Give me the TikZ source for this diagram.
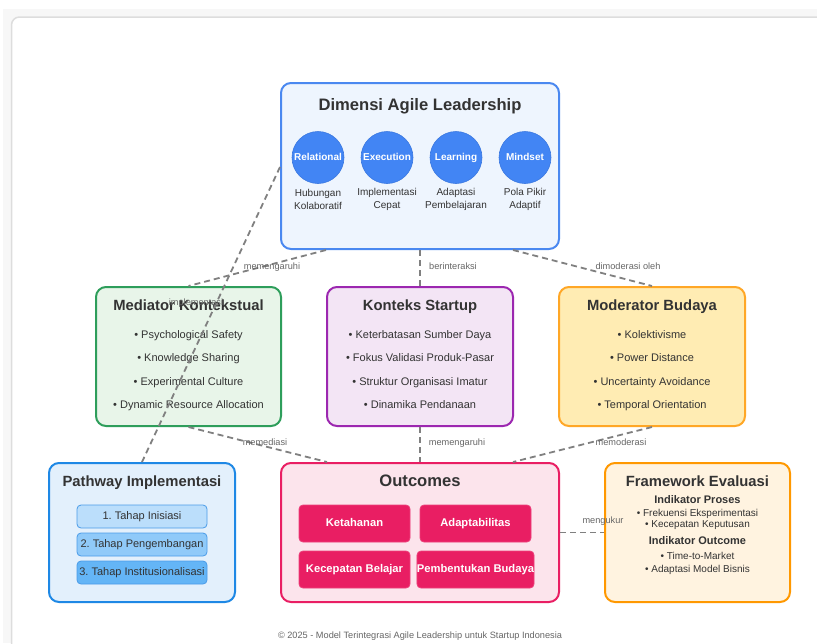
\documentclass[tikz,border=0pt]{standalone}
\usepackage{fontspec}
\setmainfont{Liberation Sans}
\usetikzlibrary{calc}
\definecolor{bggray}{HTML}{F7F7F7}
\definecolor{cardline}{HTML}{DDDDDD}
\definecolor{txt}{HTML}{333333}
\definecolor{conncol}{HTML}{808080}
\definecolor{lblcol}{HTML}{666666}
\definecolor{dimfill}{HTML}{EEF5FE}
\definecolor{dimline}{HTML}{4A88F0}
\definecolor{circfill}{HTML}{4285F4}
\definecolor{circline}{HTML}{3A78E0}
\definecolor{medfill}{HTML}{E8F5E9}
\definecolor{medline}{HTML}{2E9E5B}
\definecolor{konfill}{HTML}{F3E5F5}
\definecolor{konline}{HTML}{9C27B0}
\definecolor{modfill}{HTML}{FFECB3}
\definecolor{modline}{HTML}{FFA726}
\definecolor{patfill}{HTML}{E3F0FC}
\definecolor{patline}{HTML}{1E88E5}
\definecolor{stepA}{HTML}{BBDEFB}
\definecolor{stepB}{HTML}{90CAF9}
\definecolor{stepC}{HTML}{64B5F6}
\definecolor{stepline}{HTML}{4A9BE8}
\definecolor{outfill}{HTML}{FCE4EC}
\definecolor{outline}{HTML}{E91E63}
\definecolor{fwfill}{HTML}{FFF3E0}
\definecolor{fwline}{HTML}{FF9800}
\frenchspacing
\begin{document}
\begin{tikzpicture}[x=1pt,y=-1pt,
  panel/.style={draw, rounded corners=10pt, line width=2pt, inner sep=0pt},
  ttl/.style={text=txt, font=\fontsize{14.8}{17}\selectfont\bfseries, inner sep=0pt, text height=0.72em, text depth=0.22em},
  bigttl/.style={text=txt, font=\fontsize{16.6}{20}\selectfont\bfseries, inner sep=0pt, text height=0.72em, text depth=0.22em},
  item/.style={text=txt, font=\fontsize{11}{13}\selectfont, inner sep=0pt, text height=0.72em, text depth=0.22em},
  small/.style={text=txt, font=\fontsize{10}{13}\selectfont, inner sep=0pt, align=center},
  circ/.style={circle, draw=circline, line width=0.6pt, fill=circfill, minimum size=52pt, inner sep=0pt, text=white, font=\fontsize{10}{12}\selectfont\bfseries, text height=0.72em, text depth=0.22em},
  stepbox/.style={draw=stepline, line width=0.8pt, rounded corners=4pt, minimum width=130pt, minimum height=23pt, inner sep=0pt, text=txt, font=\fontsize{11}{13}\selectfont, text height=0.72em, text depth=0.22em},
  outbox/.style={draw=outline!85!white, fill=outline, line width=0.8pt, rounded corners=4pt, minimum width=111pt, minimum height=37pt, inner sep=0pt, text=white, font=\fontsize{11.2}{13}\selectfont\bfseries, text height=0.72em, text depth=0.22em},
  conn/.style={draw=conncol, line width=1.8pt, dash pattern=on 6pt off 4pt},
  lbl/.style={text=lblcol, font=\fontsize{9.2}{11}\selectfont, inner sep=0pt, text height=0.72em, text depth=0.22em},
]
\useasboundingbox (0,0) rectangle (817,643);
% background
\fill[white] (0,0) rectangle (817,643);
\fill[bggray] (3,9) rectangle (817,643);
\draw[cardline, line width=1.5pt, fill=white, rounded corners=8pt] (11.5,17) rectangle (840,670);

% panels
\node[panel, draw=dimline, fill=dimfill, minimum width=278pt, minimum height=166pt] (dim) at (420,166) {};
\node[panel, draw=medline, fill=medfill, minimum width=185pt, minimum height=139pt] (med) at (188.5,356.5) {};
\node[panel, draw=konline, fill=konfill, minimum width=186pt, minimum height=139pt] (kon) at (420,356.5) {};
\node[panel, draw=modline, fill=modfill, minimum width=186pt, minimum height=139pt] (mod) at (652,356.5) {};
\node[panel, draw=patline, fill=patfill, minimum width=186pt, minimum height=139pt] (pat) at (142,532.5) {};
\node[panel, draw=outline, fill=outfill, minimum width=278pt, minimum height=139pt] (out) at (420,532.5) {};
\node[panel, draw=fwline, fill=fwfill, minimum width=185pt, minimum height=139pt] (fw) at (697.5,532.5) {};

% Dimensi
\node[bigttl] (dimT) at (420,107.5) {Dimensi Agile Leadership};
\node[circ] (c1) at (318,157.5) {Relational};
\node[circ] (c2) at (387,157.5) {Execution};
\node[circ] (c3) at (456,157.5) {Learning};
\node[circ] (c4) at (525,157.5) {Mindset};
\node[small] (l1) at (318,199.5) {Hubungan\\Kolaboratif};
\node[small] (l2) at (387,199.5) {Implementasi\\Cepat};
\node[small] (l3) at (456,199.5) {Adaptasi\\Pembelajaran};
\node[small] (l4) at (525,199.5) {Pola Pikir\\Adaptif};

% Mediator
\node[ttl] (medT) at (188.5,307.5) {Mediator Kontekstual};
\node[item] (m1) at (188.5,336) {• Psychological Safety};
\node[item] (m2) at (188.5,359) {• Knowledge Sharing};
\node[item] (m3) at (188.5,382.5) {• Experimental Culture};
\node[item] (m4) at (188.5,406) {• Dynamic Resource Allocation};

% Konteks
\node[ttl] (konT) at (420,307.5) {Konteks Startup};
\node[item] (k1) at (420,336) {• Keterbatasan Sumber Daya};
\node[item] (k2) at (420,359) {• Fokus Validasi Produk-Pasar};
\node[item] (k3) at (420,382.5) {• Struktur Organisasi Imatur};
\node[item] (k4) at (420,406) {• Dinamika Pendanaan};

% Moderator
\node[ttl] (modT) at (652,307.5) {Moderator Budaya};
\node[item] (b1) at (652,336) {• Kolektivisme};
\node[item] (b2) at (652,359) {• Power Distance};
\node[item] (b3) at (652,382.5) {• Uncertainty Avoidance};
\node[item] (b4) at (652,406) {• Temporal Orientation};

% Pathway
\node[ttl] (patT) at (142,483.5) {Pathway Implementasi};
\node[stepbox, fill=stepA] (s1) at (142,516.5) {1. Tahap Inisiasi};
\node[stepbox, fill=stepB] (s2) at (142,544.5) {2. Tahap Pengembangan};
\node[stepbox, fill=stepC] (s3) at (142,572.5) {3. Tahap Institusionalisasi};

% Outcomes
\node[bigttl] (outT) at (420,483.5) {Outcomes};
\node[outbox] (o1) at (354.5,523.5) {Ketahanan};
\node[outbox] (o2) at (475.5,523.5) {Adaptabilitas};
\node[outbox] (o3) at (354.5,569.5) {Kecepatan Belajar};
\node[outbox] (o4) at (475.5,569.5) {Pembentukan Budaya};

% Framework
\node[ttl] (fwT) at (697.5,483.5) {Framework Evaluasi};
\node[item, font=\fontsize{11}{13}\selectfont\bfseries] (fwP) at (697.5,501) {Indikator Proses};
\node[item, font=\fontsize{10}{12}\selectfont] (f1) at (697.5,513.5) {• Frekuensi Eksperimentasi};
\node[item, font=\fontsize{10}{12}\selectfont] (f2) at (697.5,525) {• Kecepatan Keputusan};
\node[item, font=\fontsize{11}{13}\selectfont\bfseries] (fwO) at (697.5,542) {Indikator Outcome};
\node[item, font=\fontsize{10}{12}\selectfont] (f3) at (697.5,556.5) {• Time-to-Market};
\node[item, font=\fontsize{10}{12}\selectfont] (f4) at (697.5,569.5) {• Adaptasi Model Bisnis};

% connectors
\draw[conn] ($(dim.south)+(-94,0)$) -- (med.north);
\draw[conn] (dim.south) -- (kon.north);
\draw[conn] ($(dim.south)+(93,0)$) -- (mod.north);
\draw[conn] ($(dim.west)+(0,1)$) -- (pat.north);
\draw[conn] (med.south) -- ($(out.north)+(-93,0)$);
\draw[conn] (kon.south) -- (out.north);
\draw[conn] (mod.south) -- ($(out.north)+(93,0)$);
\draw[conn] (out.east) -- (fw.west);

% connector labels
\node[lbl] (e1) at (272,267) {memengaruhi};
\node[lbl] (e2) at (453,267) {berinteraksi};
\node[lbl] (e3) at (628,267) {dimoderasi oleh};
\node[lbl] (e4) at (196,303) {implementasi};
\node[lbl] (e5) at (265,443) {memediasi};
\node[lbl] (e6) at (457,443) {memengaruhi};
\node[lbl] (e7) at (621,443) {memoderasi};
\node[lbl] (e8) at (603,521) {mengukur};

% footer
\node[lbl] (foot) at (420,636) {© 2025 - Model Terintegrasi Agile Leadership untuk Startup Indonesia};
\end{tikzpicture}
\end{document}
